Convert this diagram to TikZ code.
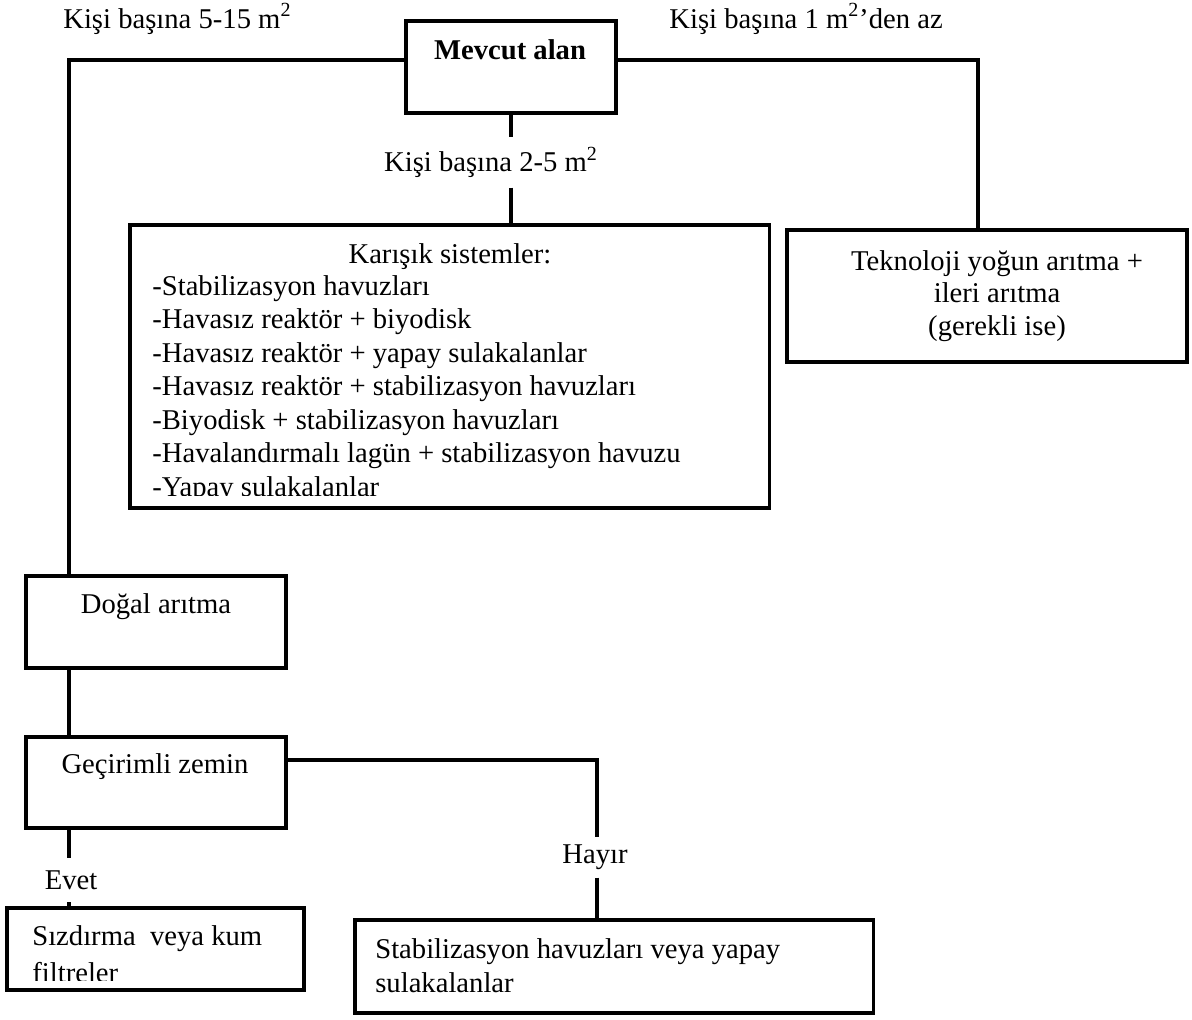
\documentclass[tikz,border=0pt]{standalone}
\usepackage{fontspec}
\setmainfont{Liberation Serif}
\usepackage{tikz}

\tikzset{
  kutu/.style={draw, line width=1.8pt, inner sep=0pt, outer sep=0pt, anchor=north west},
  yazi/.style={font=\fontsize{16.3}{19}\selectfont, inner sep=0pt},
  etiket/.style={font=\fontsize{16.3}{19}\selectfont, inner sep=0pt, outer sep=0pt},
  baglanti/.style={line width=2pt}
}

\begin{document}
\begin{tikzpicture}[x=0.02cm, y=-0.02cm]
  \useasboundingbox (0,0) rectangle (1192,1019);

  % kutular
  \node[kutu, minimum width=4.2cm, minimum height=1.84cm] (mevcut) at (406,21) {};
  \node[kutu, minimum width=12.8cm, minimum height=5.66cm] (karisik) at (130,225) {};
  \node[kutu, minimum width=8cm, minimum height=2.64cm] (tekno) at (787,230) {};
  \node[kutu, minimum width=5.2cm, minimum height=1.84cm] (dogal) at (26,576) {};
  \node[kutu, minimum width=5.2cm, minimum height=1.82cm] (gecirimli) at (26,737) {};
  \node[kutu, minimum width=5.94cm, minimum height=1.64cm] (sizdirma) at (7,908) {};
  \node[kutu, minimum width=10.38cm, minimum height=1.86cm] (stab) at (355,920) {};

  % ust etiketler
  \node[yazi, anchor=base west] (solust) at (63,28) {Kişi başına 5-15 m\textsuperscript{2}};
  \node[yazi, anchor=base west] (sagust) at (669,28) {Kişi başına 1 m\textsuperscript{2}'den az};
  \node[etiket, minimum height=1.02cm] (orta) at (491,162) {Kişi başına 2-5 m\textsuperscript{2}};
  \node[etiket, minimum height=0.82cm] (hayir) at (595,857) {Hayır};
  \node[etiket, minimum height=0.88cm] (evet) at (71,880) {Evet};

  % kutu yazilari
  \node[yazi, anchor=base, font=\fontsize{16.3}{19}\selectfont\bfseries] (mevcutyazi) at (510,59) {Mevcut alan};
  \node[yazi, anchor=base] (dogalyazi) at (156,613) {Doğal arıtma};
  \node[yazi, anchor=base] (gecirimliyazi) at (155,773) {Geçirimli zemin};
  \foreach \satir [count=\i] in {Teknoloji yoğun arıtma +, ileri arıtma, (gerekli ise)}
    \node[yazi, anchor=base] (tek\i) at (997, {270+32.5*(\i-1)}) {\satir};
  \node[yazi, anchor=base west] (stab1) at (375,958) {Stabilizasyon havuzları veya yapay};
  \node[yazi, anchor=base west] (stab2) at (375,992) {sulakalanlar};

  \begin{scope}
    \clip (130,225) rectangle (770,495);
    \node[yazi, anchor=base] (karisikbaslik) at (450,263) {Karışık sistemler:};
    \foreach \satir [count=\i] in {-Stabilizasyon havuzları, -Havasız reaktör + biyodisk,
        -Havasız reaktör + yapay sulakalanlar, -Havasız reaktör + stabilizasyon havuzları,
        -Biyodisk + stabilizasyon havuzları, -Havalandırmalı lagün + stabilizasyon havuzu,
        -Yapay sulakalanlar}
      \node[yazi, anchor=base west] (madde\i) at (152, {295+33.5*(\i-1)}) {\satir};
  \end{scope}

  \begin{scope}
    \clip (7,908) rectangle (304,980);
    \node[yazi, anchor=base west] (sizdirma1) at (32,945) {Sızdırma\ \ veya kum};
    \node[yazi, anchor=base west] (sizdirma2) at (32,982) {filtreler};
  \end{scope}

  % baglantilar
  \coordinate (solkose) at (69,60);
  \coordinate (sagkose) at (978,60);
  \coordinate (hayirkose) at (597,760);
  \draw[baglanti] (mevcut.west |- solkose) -- (solkose) -- (dogal.north -| solkose);
  \draw[baglanti] (mevcut.east |- sagkose) -- (sagkose) -- (tekno.north -| sagkose);
  \draw[baglanti] (mevcut.south) -- (mevcut.south |- orta.north);
  \draw[baglanti] (mevcut.south |- orta.south) -- (karisik.north -| mevcut.south);
  \draw[baglanti] (dogal.south -| solkose) -- (gecirimli.north -| solkose);
  \draw[baglanti] (gecirimli.east |- hayirkose) -- (hayirkose) -- (hayirkose |- hayir.north);
  \draw[baglanti] (hayir.south -| hayirkose) -- (stab.north -| hayirkose);
  \draw[baglanti] (gecirimli.south -| solkose) -- (evet.north -| solkose);
  \draw[baglanti] (evet.south -| solkose) -- (sizdirma.north -| solkose);
\end{tikzpicture}
\end{document}
